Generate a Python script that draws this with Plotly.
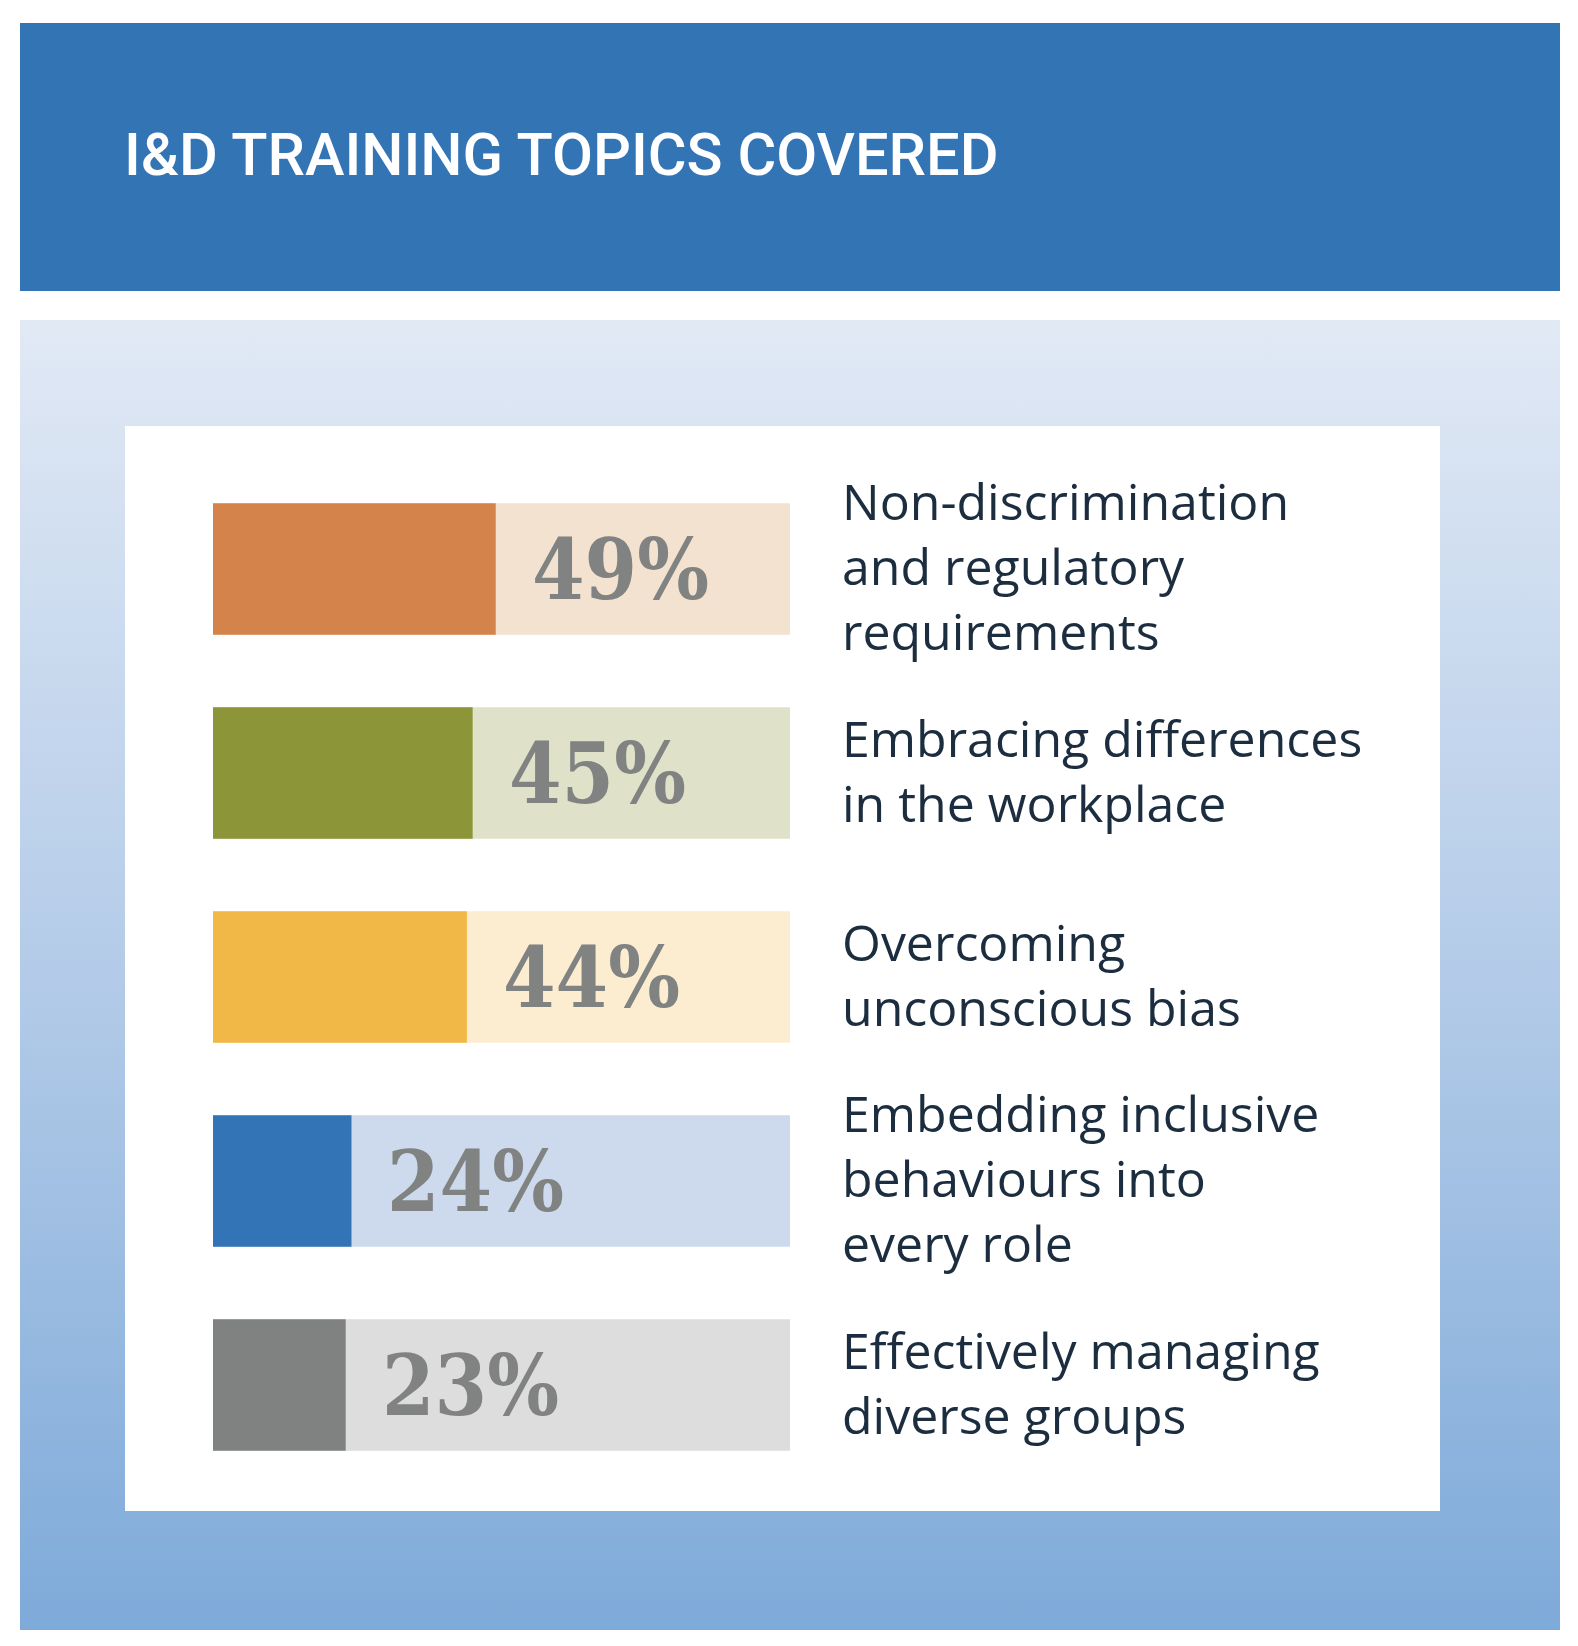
import plotly.graph_objects as go

# ---- data ----
title_text = "I&D TRAINING TOPICS COVERED"
topics = [
    "Non-discrimination and regulatory requirements",
    "Embracing differences in the workplace",
    "Overcoming unconscious bias",
    "Embedding inclusive behaviours into every role",
    "Effectively managing diverse groups",
]
topic_labels = [
    "Non-discrimination<br>and regulatory<br>requirements",
    "Embracing differences<br>in the workplace",
    "Overcoming<br>unconscious bias",
    "Embedding inclusive<br>behaviours into<br>every role",
    "Effectively managing<br>diverse groups",
]
values = [49, 45, 44, 24, 23]
track_values = [100, 100, 100, 100, 100]
dark_colors = ["#d4834a", "#8c9537", "#f2b847", "#3274b5", "#7f8280"]
light_colors = ["#f3e2d0", "#dfe2c8", "#fcedd1", "#cdd9ec", "#dcdddc"]

W, H = 1570, 1638

fig = go.Figure()

# background panel with vertical gradient (page-pixel axes x/y)
fig.add_trace(go.Scatter(
    x=[12, 1552, 1552, 12, 12], y=[312, 312, 1622, 1622, 312],
    mode="none", fill="toself",
    fillgradient=dict(type="vertical",
                      colorscale=[[0, "#7eaad9"], [0.5, "#b3cbe8"], [1, "#e1e9f5"]]),
    hoverinfo="skip", showlegend=False, xaxis="x", yaxis="y"))
# white card
fig.add_trace(go.Scatter(
    x=[117, 1432, 1432, 117, 117], y=[418, 418, 1503, 1503, 418],
    mode="none", fill="toself", fillcolor="#ffffff",
    hoverinfo="skip", showlegend=False, xaxis="x", yaxis="y"))

# bars
fig.add_trace(go.Bar(
    y=topics, x=track_values, orientation="h", marker=dict(color=light_colors, line_width=0),
    width=0.645, xaxis="x2", yaxis="y2", showlegend=False, hoverinfo="skip"))
fig.add_trace(go.Bar(
    y=topics, x=values, orientation="h", marker=dict(color=dark_colors, line_width=0),
    width=0.645, xaxis="x2", yaxis="y2", showlegend=False))

annotations = []
for t, v, lab in zip(topics, values, topic_labels):
    annotations.append(dict(
        x=v, y=t, xref="x2", yref="y2", text=f"{v}%", showarrow=False,
        xanchor="left", yanchor="middle", xshift=34,
        font=dict(family="DejaVu Serif Condensed, DejaVu Serif", size=84, color="#808381",
                  weight="bold")))
    annotations.append(dict(
        x=100, y=t, xref="x2", yref="y2", text=lab, showarrow=False,
        xanchor="left", yanchor="middle", align="left", xshift=50, yshift=3,
        font=dict(family="Open Sans", size=50, color="#1b2d3f")))

annotations.append(dict(
    x=114, y=147, xref="x", yref="y", text=title_text, showarrow=False,
    xanchor="left", yanchor="middle",
    font=dict(family="Roboto", size=59.5, color="#ffffff", weight=500)))

fig.update_layout(
    width=W, height=H,
    margin=dict(l=0, r=0, t=0, b=0),
    paper_bgcolor="#ffffff", plot_bgcolor="rgba(0,0,0,0)",
    barmode="overlay",
    xaxis=dict(domain=[0, 1], range=[0, W], visible=False, fixedrange=True),
    yaxis=dict(domain=[0, 1], range=[H, 0], visible=False, fixedrange=True),
    xaxis2=dict(domain=[205 / W, 782 / W], range=[0, 100], visible=False,
                anchor="y2", fixedrange=True),
    yaxis2=dict(domain=[1 - 1479 / H, 1 - 459 / H], visible=False, anchor="x2",
                autorange="reversed", categoryorder="array", categoryarray=topics,
                fixedrange=True),
    shapes=[dict(type="rect", xref="x", yref="y", x0=12, x1=1552, y0=15, y1=283,
                 fillcolor="#3374b5", line_width=0, layer="above")],
    annotations=annotations,
)

fig.write_html("out.html")
